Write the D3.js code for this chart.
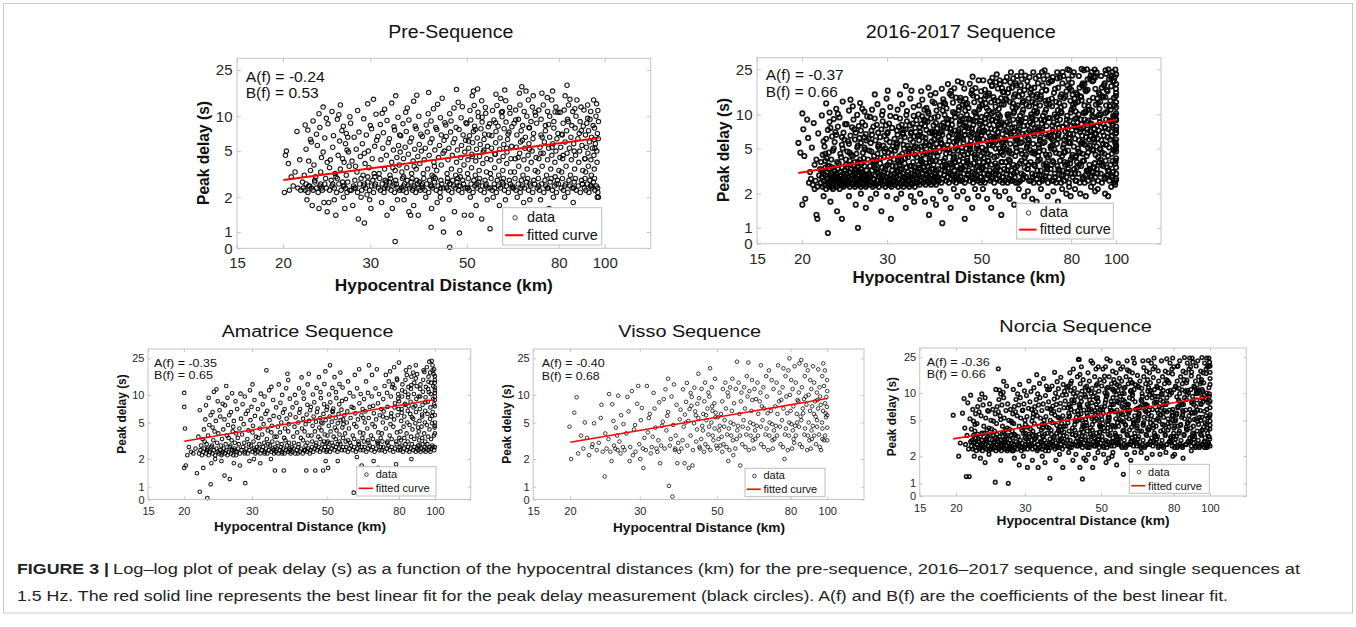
<!DOCTYPE html>
<html>
<head>
<meta charset="utf-8">
<script src="https://cdn.jsdelivr.net/npm/d3@7"></script>
<style>
body { margin: 0; background: #fff; }
text { font-family: "Liberation Sans", Arial, Helvetica, sans-serif; }
</style>
</head>
<body>
<svg width="1356" height="627"></svg>
<script>
// tick positions are log10 values, labels as printed in the figure
var xTickPos = [1.2, 1.3, 1.49, 1.7, 1.9, 2.0];
var xTickText = ["15", "20", "30", "50", "80", "100"];
var yTickPos = [-0.14, 0, 0.301, 0.699, 1, 1.398];
var yTickText = ["0", "1", "2", "5", "10", "25"];

var titles = ["Pre-Sequence", "2016-2017 Sequence", "Amatrice Sequence", "Visso Sequence", "Norcia Sequence"];
var coefA = [-0.24, -0.37, -0.35, -0.40, -0.36];
var coefB = [0.53, 0.66, 0.65, 0.68, 0.66];
var fitStart = [20, 19.6, 20, 20, 19.6];
var fitEnd = [97, 100, 100, 100, 100];

// peak delay measurements: distance (km), delay (s), distance, delay, ...
var preSeq = [
20.1,2.2,20.3,5.0,20.2,4.6,20.5,3.9,20.6,2.3,21.0,2.5,21.2,3.3,21.5,2.4,21.7,4.2,21.4,7.4,21.8,2.3,20.8,3.0,
22.1,2.4,22.3,2.3,22.4,2.6,22.6,2.2,22.8,2.5,23.0,2.4,23.2,2.3,23.4,2.7,23.6,2.4,23.8,2.2,24.0,2.5,24.3,2.3,24.6,2.6,24.8,2.4,22.5,1.9,23.1,1.7,23.9,1.6,24.5,1.8,22.2,3.1,22.9,3.4,23.5,3.0,24.1,3.3,24.7,2.9,22.7,4.1,23.3,3.8,24.2,4.4,24.9,4.0,22.4,5.2,23.7,5.6,24.4,4.9,22.9,6.3,23.6,7.0,24.6,6.5,22.3,8.4,23.2,9.1,24.0,8.0,24.8,9.6,23.9,10.5,24.4,12.0,22.6,7.6,23.4,2.8,24.1,2.6,22.0,2.7,24.9,1.5,23.0,6.0,
25.2,2.3,25.5,2.5,25.8,2.4,26.1,2.2,26.4,2.6,26.7,2.3,27.0,2.5,27.3,2.4,27.6,2.7,27.9,2.3,25.4,2.8,26.2,2.9,26.9,2.7,27.5,2.2,25.1,1.8,26.0,1.4,27.2,1.6,25.9,3.2,26.6,3.5,27.4,3.1,27.8,3.7,25.3,4.2,26.3,4.6,27.1,4.0,27.7,4.9,25.6,5.4,26.5,6.1,27.3,5.8,25.7,6.8,26.8,7.5,27.6,6.6,25.0,8.6,26.2,9.4,27.0,8.2,27.9,9.9,26.4,10.3,25.5,11.0,27.4,7.1,25.2,3.6,26.0,3.0,26.9,4.3,27.5,5.1,25.8,1.9,27.0,2.0,26.6,12.5,
28.1,2.3,28.4,2.5,28.7,2.4,29.0,2.2,29.3,2.6,29.6,2.3,29.9,2.5,30.2,2.4,30.5,2.7,30.8,2.3,31.1,2.5,31.4,2.2,31.7,2.6,28.6,2.8,29.5,2.9,30.4,2.1,31.3,2.8,28.3,1.7,29.1,1.3,30.0,1.2,31.0,1.6,28.9,3.3,29.8,3.1,30.7,3.6,31.5,3.2,28.2,4.1,29.4,4.5,30.1,3.9,31.2,4.3,28.8,5.2,29.7,5.8,30.6,5.0,31.6,5.5,28.5,6.6,29.2,7.3,30.3,6.9,31.1,7.8,28.0,8.7,29.9,9.5,30.9,8.3,31.8,10.4,29.0,11.2,30.5,12.8,31.4,14.0,28.7,3.7,30.0,4.8,31.9,6.2,29.5,2.0,30.8,1.9,31.6,3.0,
32.2,2.4,32.5,2.3,32.8,2.6,33.1,2.2,33.4,2.5,33.7,2.4,34.0,2.7,34.3,2.3,34.6,2.5,34.9,2.2,35.2,2.6,35.5,2.4,35.8,2.3,32.4,2.9,33.3,2.8,34.2,2.9,35.1,2.8,32.7,1.8,33.6,1.4,34.5,1.6,35.4,1.9,35.0,0.83,32.3,3.2,33.2,3.5,34.1,3.1,35.0,3.4,35.7,3.8,32.6,4.2,33.5,4.6,34.4,4.0,35.3,4.4,32.9,5.3,33.8,5.9,34.7,5.1,35.6,5.6,32.1,6.7,33.0,7.2,34.0,6.4,34.9,7.6,35.8,6.9,32.5,8.5,33.6,9.2,34.8,8.1,35.5,9.8,33.2,11.5,34.4,13.0,35.1,15.0,32.8,10.6,34.6,3.6,35.9,4.9,
36.1,2.4,36.4,2.3,36.7,2.6,37.0,2.2,37.3,2.5,37.6,2.4,37.9,2.7,38.2,2.3,38.5,2.5,38.8,2.2,39.1,2.6,39.4,2.4,39.7,2.3,36.3,2.9,37.2,2.8,38.1,2.9,39.0,2.8,36.6,1.9,37.5,1.5,38.4,1.7,39.3,1.4,36.2,3.3,37.1,3.6,38.0,3.2,38.9,3.5,39.6,3.9,36.5,4.3,37.4,4.7,38.3,4.1,39.2,4.5,36.8,5.4,37.7,6.0,38.6,5.2,39.5,5.7,36.0,6.8,37.0,7.4,38.0,6.5,38.9,7.8,39.8,7.0,36.4,8.6,37.5,9.3,38.7,8.2,39.4,10.0,37.2,11.8,38.4,13.5,39.0,15.2,36.9,10.8,38.5,3.7,39.9,5.0,37.8,1.4,
40.2,2.4,40.6,2.3,41.0,2.6,41.4,2.2,41.8,2.5,42.2,2.4,42.6,2.7,43.0,2.3,43.4,2.5,43.8,2.2,44.2,2.6,44.6,2.4,40.4,2.9,41.6,2.8,42.8,2.9,44.0,2.8,40.8,2.0,42.0,1.6,43.2,1.8,44.4,1.3,41.9,1.1,44.6,1.0,40.3,3.2,41.2,3.5,42.1,3.1,43.1,3.4,44.1,3.8,40.5,4.2,41.5,4.6,42.5,4.0,43.5,4.4,44.5,4.8,40.7,5.3,41.7,5.9,42.7,5.1,43.7,5.6,44.7,6.2,40.1,6.7,41.1,7.3,42.1,6.4,43.1,7.7,44.1,6.9,40.9,8.4,41.9,9.1,42.9,8.0,43.9,9.7,44.9,8.8,41.3,10.5,42.4,11.6,43.3,12.7,44.3,14.3,41.4,16.0,42.6,3.7,44.8,5.0,40.0,2.5,43.9,2.0,
45.3,2.4,45.7,2.3,46.1,2.6,46.5,2.2,46.9,2.5,47.3,2.4,47.7,2.7,48.1,2.3,48.5,2.5,48.9,2.2,49.3,2.6,49.7,2.4,45.5,2.9,46.7,2.8,47.9,2.9,49.1,2.8,45.9,1.9,47.1,1.5,48.3,0.98,49.5,1.4,46.0,0.74,45.4,3.2,46.4,3.5,47.4,3.1,48.4,3.4,49.4,3.8,45.6,4.2,46.6,4.6,47.6,4.0,48.6,4.4,49.6,4.9,45.8,5.3,46.8,5.9,47.8,5.1,48.8,5.6,49.8,6.2,45.2,6.7,46.2,7.3,47.2,6.4,48.2,7.7,49.2,6.9,45.1,8.4,46.3,9.1,47.5,8.0,48.7,9.7,49.9,8.8,46.0,10.5,47.0,11.8,48.0,13.2,49.0,12.1,47.6,17.0,
50.2,2.4,50.7,2.3,51.2,2.6,51.7,2.2,52.2,2.5,52.7,2.4,53.2,2.7,53.7,2.3,54.2,2.5,54.7,2.2,55.2,2.6,55.7,2.4,50.5,2.9,51.9,2.8,53.4,2.9,54.9,2.8,51.0,2.0,52.5,1.7,54.0,1.3,55.5,1.9,51.2,1.4,50.3,3.2,51.3,3.6,52.3,3.1,53.3,3.4,54.3,3.9,55.3,3.3,50.4,4.2,51.4,4.7,52.4,4.1,53.4,4.5,54.4,4.9,55.4,4.3,50.6,5.3,51.6,5.9,52.6,5.2,53.6,5.7,54.6,6.3,55.6,5.5,50.8,6.8,51.8,7.4,52.8,6.5,53.8,7.8,54.8,7.0,55.8,8.1,50.1,8.6,51.1,9.3,52.1,8.2,53.1,9.9,54.1,8.9,55.1,10.6,50.9,11.2,52.0,12.4,53.0,10.8,54.0,13.6,55.0,11.9,51.5,15.0,52.9,17.2,51.8,16.5,
56.3,2.4,56.9,2.3,57.5,2.6,58.1,2.2,58.7,2.5,59.3,2.4,59.9,2.7,60.5,2.3,61.1,2.5,61.7,2.2,62.3,2.6,62.9,2.4,56.6,2.9,58.4,2.8,60.2,2.9,62.0,2.8,57.2,2.0,59.0,1.7,60.8,1.9,62.6,1.5,56.3,1.07,56.4,3.2,57.6,3.6,58.8,3.1,60.0,3.4,61.2,3.9,62.4,3.3,56.5,4.2,57.7,4.7,58.9,4.1,60.1,4.5,61.3,4.9,62.5,4.3,56.7,5.3,57.9,5.9,59.1,5.2,60.3,5.7,61.5,6.3,62.7,5.5,56.8,6.8,58.0,7.4,59.2,6.5,60.4,7.8,61.6,7.0,62.8,8.1,56.2,8.6,57.4,9.3,58.6,8.2,59.8,9.9,61.0,8.9,62.2,10.6,57.0,11.2,58.3,12.4,59.6,10.8,60.9,13.6,62.1,11.9,58.0,15.5,60.6,16.8,59.4,14.2,
63.4,2.4,64.1,2.3,64.8,2.6,65.5,2.2,66.2,2.5,66.9,2.4,67.6,2.7,68.3,2.3,69.0,2.5,69.7,2.2,70.4,2.6,63.8,2.9,65.9,2.8,68.0,2.9,70.1,2.8,64.5,2.0,66.6,1.8,68.7,1.9,63.6,3.3,65.0,3.7,66.4,3.1,67.8,3.5,69.2,4.0,70.6,3.4,63.9,4.3,65.3,4.8,66.7,4.2,68.1,4.6,69.5,5.0,70.9,4.4,64.2,5.4,65.6,6.0,67.0,5.3,68.4,5.8,69.8,6.4,64.4,6.9,65.8,7.5,67.2,6.6,68.6,7.9,70.0,7.1,63.5,8.7,64.9,9.4,66.3,8.3,67.7,10.0,69.1,9.0,70.5,10.8,64.0,11.3,65.4,12.5,66.8,11.0,68.2,13.8,69.6,12.0,65.2,15.8,67.4,16.5,69.9,15.0,66.0,18.0,
71.3,2.4,72.1,2.3,72.9,2.6,73.7,2.2,74.5,2.5,75.3,2.4,76.1,2.7,76.9,2.3,77.7,2.5,78.5,2.2,79.3,2.6,71.7,2.9,74.1,2.8,76.5,2.9,78.9,2.8,72.5,1.9,75.7,1.6,77.3,2.0,71.5,3.3,73.1,3.7,74.7,3.1,76.3,3.5,77.9,4.0,79.5,3.4,71.9,4.3,73.5,4.8,75.1,4.2,76.7,4.6,78.3,5.0,79.9,4.4,72.3,5.4,73.9,6.0,75.5,5.3,77.1,5.8,78.7,6.4,72.7,6.9,74.3,7.5,75.9,6.6,77.5,7.9,79.1,7.1,71.1,8.7,72.7,9.4,74.3,8.3,75.9,10.0,77.5,9.0,79.1,10.8,71.9,11.3,73.5,12.5,75.1,11.0,76.7,13.8,78.3,12.0,73.0,15.8,75.0,14.5,77.0,16.5,78.0,3.0,
80.4,2.4,81.3,2.3,82.2,2.6,83.1,2.2,84.0,2.5,84.9,2.4,85.8,2.7,86.7,2.3,87.6,2.5,88.5,2.2,89.4,2.6,80.9,2.9,83.6,2.8,86.3,2.9,89.0,2.8,81.8,2.0,85.4,1.8,80.6,3.3,82.4,3.7,84.2,3.1,86.0,3.5,87.8,4.0,89.6,3.4,81.0,4.3,82.8,4.8,84.6,4.2,86.4,4.6,88.2,5.0,80.2,5.4,82.0,6.0,83.8,5.3,85.6,5.8,87.4,6.4,89.2,5.6,80.8,6.9,82.6,7.5,84.4,6.6,86.2,7.9,88.0,7.1,89.8,8.2,81.2,8.7,83.0,9.4,84.8,8.3,86.6,10.0,88.4,9.0,80.0,10.8,81.6,11.3,83.4,12.5,85.2,11.0,87.0,13.8,88.8,12.0,82.0,15.0,84.0,14.0,82.8,18.5,
90.3,2.4,91.0,2.3,91.7,2.6,92.4,2.2,93.1,2.5,93.8,2.4,94.5,2.7,95.2,2.3,95.9,2.5,96.6,2.2,90.6,2.9,92.8,2.8,95.0,2.9,96.3,2.0,96.9,2.0,90.9,3.3,92.1,3.7,93.5,3.1,94.9,3.5,96.2,4.0,90.5,4.3,91.9,4.8,93.3,4.2,94.7,4.6,96.1,5.0,91.2,5.4,92.6,6.0,94.0,5.3,95.4,5.8,96.8,6.4,90.8,6.9,92.2,7.5,93.6,6.6,95.0,7.9,96.4,7.1,91.4,8.7,92.9,9.4,94.3,8.3,95.7,10.0,96.9,9.0,90.1,11.3,91.8,12.5,93.2,11.0,94.6,13.8,96.0,12.8,
22.7,2.5,24.2,2.4,25.6,2.6,27.1,2.5,28.5,2.4,30.0,2.6,31.6,2.5,33.2,2.4,34.8,2.6,36.5,2.5,38.3,2.4,40.1,2.6,42.0,2.5,44.0,2.4,46.0,2.6,48.2,2.5,50.4,2.4,52.7,2.6,55.1,2.5,57.6,2.4,60.2,2.6,62.9,2.5,65.7,2.4,68.7,2.6,71.8,2.5,75.0,2.4,78.4,2.6,81.9,2.5,85.6,2.4,89.4,2.6,93.4,2.5,96.5,2.4,
50.5,6.1,52.3,7.7,54.1,9.8,56.0,6.9,57.9,8.8,59.9,11.0,61.9,7.3,64.0,9.3,66.2,6.2,68.4,8.0,70.7,10.2,73.1,6.6,75.5,8.5,78.0,10.9,80.6,7.0,83.3,9.0,86.1,11.6,88.9,7.5,91.8,9.6,94.8,6.3,96.6,11.2,
51.5,4.5,54.6,5.1,57.8,4.7,61.2,5.3,64.8,4.4,68.6,5.2,72.6,4.8,76.8,5.4,81.2,4.6,85.8,5.0,90.6,4.3,95.2,5.3,30.5,3.0,33.5,2.7,36.5,3.0,39.5,2.7,42.5,3.0,45.5,2.7,48.5,3.0
];

var seq1617 = [
19.6,5.6,19.8,4.6,20.0,10.2,20.1,7.4,20.2,4.3,20.0,1.6,20.3,1.8,20.5,9.0,20.6,6.2,20.8,3.1,20.9,2.7,21.0,5.1,21.1,2.4,21.2,8.4,21.3,3.6,21.4,2.6,21.5,1.3,21.5,4.0,21.6,2.3,21.7,6.8,21.8,2.9,21.9,3.3,21.6,1.2,21.3,2.2,20.7,2.5,
22.0,2.5,22.1,2.8,22.1,3.2,22.2,2.3,22.3,2.6,22.3,3.0,22.4,2.4,22.5,2.9,22.5,3.4,22.6,2.2,22.7,2.7,22.7,3.1,22.8,2.5,22.9,2.3,22.9,3.3,23.0,2.6,23.1,2.9,23.1,2.4,23.2,3.0,23.3,2.7,23.3,2.3,23.4,3.4,23.5,2.5,23.5,2.8,23.6,3.2,23.7,2.4,23.7,2.6,23.8,3.0,23.9,2.3,23.9,2.8,24.0,3.3,24.1,2.5,24.1,2.7,24.2,2.2,24.3,3.1,24.3,2.6,24.4,2.9,24.5,2.4,24.5,3.4,24.6,2.7,24.7,2.3,24.7,3.0,24.8,2.5,24.9,2.8,24.9,3.2,22.4,2.6,23.0,2.5,23.6,2.9,24.2,2.7,24.8,2.4,22.8,3.5,23.4,2.2,24.0,2.6,24.6,2.5,23.2,2.8,
22.0,3.8,22.2,4.4,22.4,5.2,22.6,6.1,22.8,7.3,23.0,8.6,23.2,4.0,23.4,4.8,23.6,5.7,23.8,6.6,24.0,7.8,24.2,9.4,24.4,4.2,24.6,5.0,24.8,6.0,22.1,9.8,22.5,3.9,22.9,4.6,23.3,6.4,23.7,7.0,24.1,3.7,24.5,5.4,24.9,8.2,22.3,5.8,22.7,4.1,23.1,7.6,23.5,9.1,23.9,3.8,24.3,4.5,24.7,6.9,23.0,10.4,24.0,10.1,22.6,12.5,23.8,11.2,24.6,13.0,22.3,1.9,23.1,1.7,23.9,1.4,24.5,1.2,22.8,0.9,
25.0,2.6,25.1,3.0,25.2,2.4,25.2,3.4,25.3,2.8,25.4,2.5,25.5,3.1,25.5,2.3,25.6,2.7,25.7,3.3,25.8,2.5,25.8,2.9,25.9,2.4,26.0,3.5,26.1,2.6,26.1,3.0,26.2,2.3,26.3,2.8,26.4,3.2,26.4,2.5,26.5,2.7,26.6,3.4,26.7,2.4,26.7,2.9,26.8,3.1,26.9,2.6,27.0,2.3,27.0,3.3,27.1,2.8,27.2,2.5,27.3,3.0,27.3,2.4,27.4,2.7,27.5,3.5,27.6,2.6,27.6,2.9,27.7,2.3,27.8,3.2,27.9,2.5,27.9,2.8,25.3,2.6,25.9,2.9,26.5,2.4,27.1,3.1,27.7,2.7,25.6,3.6,26.2,3.3,26.8,2.5,27.4,2.8,27.8,2.4,
25.0,4.0,25.2,4.7,25.4,5.5,25.6,6.5,25.8,7.7,26.0,9.0,26.2,3.8,26.4,4.5,26.6,5.3,26.8,6.2,27.0,7.2,27.2,8.5,27.4,4.1,27.6,4.9,27.8,5.9,25.1,8.2,25.5,3.9,25.9,4.3,26.3,6.9,26.7,7.9,27.1,3.7,27.5,5.1,27.9,9.6,25.3,5.8,25.7,4.4,26.1,7.4,26.5,9.9,26.9,4.0,27.3,4.6,27.7,6.7,25.4,10.8,26.6,3.8,27.0,5.6,27.6,8.0,26.2,6.0,25.9,11.8,26.9,12.6,27.5,10.6,25.6,13.5,27.2,11.2,25.4,1.9,26.3,1.6,27.0,2.0,27.7,1.5,26.6,1.0,
28.0,2.6,28.1,3.0,28.2,2.4,28.3,3.5,28.4,2.8,28.5,2.5,28.6,3.2,28.7,2.3,28.8,2.7,28.9,3.6,29.0,2.5,29.1,2.9,29.2,2.4,29.3,3.3,29.4,2.6,29.5,3.0,29.6,2.3,29.7,2.8,29.8,3.7,29.9,2.5,30.0,2.7,30.1,3.4,30.2,2.4,30.3,2.9,30.4,3.1,30.5,2.6,30.6,2.3,30.7,3.5,30.8,2.8,30.9,2.5,31.0,3.0,31.1,2.4,31.2,2.7,31.3,3.8,31.4,2.6,31.5,2.9,31.6,2.3,31.7,3.2,31.8,2.5,31.9,2.8,28.2,2.9,28.8,2.4,29.4,3.1,30.0,2.6,30.6,3.3,31.2,2.5,31.8,3.5,29.0,3.8,30.2,2.8,31.4,2.4,
28.0,4.0,28.2,4.8,28.4,5.6,28.6,6.6,28.8,7.8,29.0,9.2,29.2,3.9,29.4,4.5,29.6,5.4,29.8,6.3,30.0,7.4,30.2,8.7,30.4,4.2,30.6,5.0,30.8,6.0,31.0,7.0,31.2,8.3,31.4,9.7,31.6,4.4,31.8,5.2,28.1,6.1,28.5,7.2,28.9,4.3,29.3,8.1,29.7,5.0,30.1,9.9,30.5,4.7,30.9,6.8,31.3,5.7,31.7,7.6,28.3,9.5,28.7,3.9,29.1,5.9,29.5,6.9,29.9,4.1,30.3,5.3,30.7,8.0,31.1,4.6,28.6,11.0,29.4,12.3,30.2,10.7,30.8,13.8,31.4,11.6,29.0,15.0,31.0,16.2,28.4,1.8,29.2,2.0,30.0,1.4,30.9,1.9,31.5,1.2,
32.0,2.6,32.1,3.0,32.2,2.4,32.3,3.5,32.4,2.8,32.5,2.5,32.6,3.2,32.7,2.3,32.8,2.7,32.9,3.6,33.0,2.5,33.1,2.9,33.2,2.4,33.3,3.3,33.4,2.6,33.5,3.0,33.6,2.3,33.7,2.8,33.8,3.7,33.9,2.5,34.0,2.7,34.1,3.4,34.2,2.4,34.3,2.9,34.4,3.1,34.5,2.6,34.6,2.3,34.7,3.5,34.8,2.8,34.9,2.5,35.0,3.0,35.1,2.4,35.2,2.7,35.3,3.8,35.4,2.6,35.5,2.9,35.6,2.3,35.7,3.2,35.8,2.5,35.9,2.8,32.5,3.1,33.5,2.6,34.5,2.9,35.5,3.4,33.0,3.3,
32.0,4.0,32.2,4.8,32.4,5.6,32.6,6.6,32.8,7.8,33.0,9.2,33.2,3.9,33.4,4.5,33.6,5.4,33.8,6.3,34.0,7.4,34.2,8.7,34.4,4.2,34.6,5.0,34.8,6.0,35.0,7.0,35.2,8.3,35.4,9.7,35.6,4.4,35.8,5.2,32.1,6.1,32.5,7.2,32.9,4.3,33.3,8.1,33.7,5.0,34.1,9.9,34.5,4.7,34.9,6.8,35.3,5.7,35.7,7.6,32.3,9.5,32.7,3.9,33.1,5.9,33.5,6.9,33.9,4.1,34.3,5.3,34.7,8.0,35.1,4.6,35.5,6.4,35.9,8.9,32.4,5.1,33.6,7.3,32.6,11.0,33.4,12.3,34.2,10.7,34.8,13.8,35.4,11.6,33.0,15.0,35.0,16.2,34.0,17.8,32.4,1.8,33.2,2.0,34.0,1.5,34.9,1.9,35.5,1.7,
36.0,2.7,36.1,3.1,36.2,2.5,36.3,3.6,36.4,2.9,36.5,2.4,36.6,3.3,36.7,2.6,36.8,3.9,36.9,2.8,37.0,3.0,37.2,2.5,37.3,3.4,37.4,2.7,37.5,3.2,37.6,2.4,37.7,3.7,37.8,2.9,37.9,2.6,38.0,3.5,38.2,2.8,38.3,2.5,38.4,3.1,38.5,3.8,38.6,2.7,38.7,2.4,38.8,3.3,38.9,2.9,39.0,2.6,39.2,3.6,39.3,2.5,39.4,3.0,39.5,2.8,39.6,3.9,39.7,2.4,39.8,3.2,39.9,2.7,36.4,3.4,37.9,3.0,39.1,3.3,
36.0,4.2,36.2,5.0,36.4,5.9,36.6,7.0,36.8,8.2,37.0,9.6,37.2,4.4,37.4,5.3,37.6,6.2,37.8,7.3,38.0,8.6,38.2,10.2,38.4,4.1,38.6,4.9,38.8,5.8,39.0,6.8,39.2,8.0,39.4,9.4,39.6,4.6,39.8,5.5,36.1,6.5,36.5,7.7,36.9,4.8,37.3,9.0,37.7,5.6,38.1,10.6,38.5,4.3,38.9,7.1,39.3,6.0,39.7,8.4,36.3,10.0,36.7,4.0,37.1,6.3,37.5,7.9,37.9,4.5,38.3,5.4,38.7,9.2,39.1,5.1,39.5,6.6,39.9,7.5,36.8,5.2,37.6,8.8,38.4,6.9,39.2,4.7,39.8,10.8,36.4,12.0,37.0,13.5,37.8,11.4,38.6,14.8,39.4,12.6,36.8,16.0,38.2,17.2,39.6,15.4,37.4,11.0,39.0,13.0,36.6,2.0,37.5,1.7,38.3,1.3,39.1,1.8,39.7,1.6,
40.0,2.8,40.2,3.3,40.3,2.6,40.5,3.8,40.6,3.0,40.8,2.5,41.0,3.5,41.1,2.7,41.3,3.9,41.4,2.9,41.6,3.2,41.8,2.6,41.9,3.6,42.1,2.8,42.3,3.1,42.4,2.5,42.6,3.7,42.7,3.0,42.9,2.7,43.1,3.4,43.2,2.9,43.4,2.6,43.6,3.2,43.7,3.8,43.9,2.8,44.0,2.5,44.2,3.5,44.4,3.0,44.5,2.7,44.7,3.9,44.8,2.6,44.9,3.3,41.5,3.4,43.0,3.6,44.1,2.9,
40.0,4.3,40.3,5.1,40.6,6.0,40.9,7.1,41.2,8.4,41.5,9.9,41.8,4.5,42.1,5.4,42.4,6.4,42.7,7.5,43.0,8.9,43.3,10.5,43.6,4.2,43.9,5.0,44.2,5.9,44.5,7.0,44.8,8.2,40.1,9.6,40.4,4.7,40.7,5.6,41.0,6.6,41.3,7.8,41.6,4.1,41.9,9.2,42.2,4.9,42.5,5.8,42.8,6.9,43.1,8.1,43.4,4.4,43.7,10.2,44.0,5.3,44.3,6.2,44.6,7.3,44.9,8.7,40.2,6.3,40.8,8.0,41.4,5.0,42.0,7.6,42.6,4.6,43.2,6.7,43.8,9.5,44.4,4.8,41.1,10.8,42.3,9.0,43.5,5.7,44.7,6.5,
40.5,12.0,41.2,13.6,41.9,11.3,42.6,15.2,43.3,12.7,44.0,14.1,44.7,11.6,40.9,16.8,42.2,18.5,43.6,17.0,44.4,19.6,41.6,12.4,43.0,14.6,44.9,13.3,40.6,2.1,41.7,1.8,42.8,1.5,43.5,2.2,44.3,1.9,41.0,1.1,
45.0,2.8,45.2,3.3,45.4,2.6,45.6,3.8,45.8,3.0,46.0,2.5,46.2,3.5,46.4,2.7,46.6,3.9,46.8,2.9,47.0,3.2,47.2,2.6,47.4,3.6,47.6,2.8,47.8,3.1,48.0,2.5,48.2,3.7,48.4,3.0,48.6,2.7,48.8,3.4,49.0,2.9,49.2,2.6,49.4,3.2,49.6,3.8,49.8,2.8,45.5,3.4,46.7,3.0,47.9,2.7,49.1,3.5,49.9,2.5,
45.0,4.3,45.3,5.1,45.6,6.0,45.9,7.1,46.2,8.4,46.5,9.9,46.8,4.5,47.1,5.4,47.4,6.4,47.7,7.5,48.0,8.9,48.3,10.5,48.6,4.2,48.9,5.0,49.2,5.9,49.5,7.0,49.8,8.2,45.1,9.6,45.4,4.7,45.7,5.6,46.0,6.6,46.3,7.8,46.6,4.1,46.9,9.2,47.2,4.9,47.5,5.8,47.8,6.9,48.1,8.1,48.4,4.4,48.7,10.2,49.0,5.3,49.3,6.2,49.6,7.3,49.9,8.7,45.2,6.3,45.8,8.0,46.4,5.0,47.0,7.6,47.6,4.6,48.2,6.7,48.8,9.5,49.4,4.8,46.1,10.8,47.3,9.0,
45.5,12.1,46.2,13.7,46.9,11.4,47.6,15.3,48.3,12.8,49.0,14.2,49.7,11.7,45.9,16.9,47.2,18.6,48.6,17.1,49.4,20.0,46.6,12.5,48.0,14.7,49.9,13.4,45.3,19.0,47.9,21.5,45.6,2.1,46.7,1.8,47.8,1.5,48.5,2.2,49.3,1.9,46.0,1.2,
50.0,2.8,50.2,3.3,50.4,2.6,50.6,3.8,50.8,3.0,51.0,2.5,51.3,3.5,51.5,2.7,51.8,3.9,52.0,2.9,52.3,3.2,52.5,2.6,52.8,3.6,53.0,2.8,53.3,3.1,53.5,2.5,53.8,3.7,54.0,3.0,54.3,2.7,54.5,3.4,54.8,2.9,55.0,2.6,55.3,3.2,55.5,3.8,55.8,2.8,50.5,3.4,51.7,3.0,52.9,2.7,54.1,3.5,55.9,2.5,
50.0,4.3,50.3,5.1,50.6,6.0,50.9,7.1,51.2,8.4,51.5,9.9,51.8,4.5,52.1,5.4,52.4,6.4,52.7,7.5,53.0,8.9,53.3,10.5,53.6,4.2,53.9,5.0,54.2,5.9,54.5,7.0,54.8,8.2,55.1,9.6,55.4,4.7,55.7,5.6,50.1,6.6,50.4,7.8,50.7,4.1,51.0,9.2,51.3,4.9,51.6,5.8,51.9,6.9,52.2,8.1,52.5,4.4,52.8,10.2,53.1,5.3,53.4,6.2,53.7,7.3,54.0,8.7,54.3,6.3,54.6,8.0,54.9,5.0,55.2,7.6,55.5,4.6,55.8,6.7,50.2,9.5,51.1,4.8,52.0,10.8,52.9,9.0,53.8,5.7,54.7,10.0,55.6,8.5,50.8,7.2,52.6,6.1,54.4,9.3,
50.3,12.1,50.9,13.7,51.5,11.4,52.1,15.3,52.7,12.8,53.3,14.2,53.9,11.7,54.5,16.9,55.1,18.6,55.7,17.1,50.6,20.0,51.2,12.5,51.8,14.7,52.4,19.5,53.0,21.0,53.6,13.4,54.2,22.5,54.8,11.2,55.4,13.9,55.9,15.8,51.0,16.5,52.9,17.8,54.0,19.2,55.6,12.3,50.5,2.2,51.6,1.8,52.7,1.5,53.8,2.1,54.9,1.9,55.5,1.3,
56.0,2.8,56.3,3.3,56.5,2.6,56.8,3.8,57.0,3.0,57.3,2.5,57.5,3.5,57.8,2.7,58.0,3.9,58.3,2.9,58.5,3.2,58.8,2.6,59.0,3.6,59.5,2.8,60.0,3.1,60.5,2.5,61.0,3.7,61.5,3.0,62.0,2.7,62.5,3.4,57.2,3.2,58.2,2.6,59.2,3.0,60.2,3.5,61.2,2.6,62.2,2.9,62.8,3.8,59.8,2.5,
56.0,4.4,56.3,5.2,56.6,6.1,56.9,7.2,57.2,8.5,57.5,10.0,57.8,4.6,58.1,5.5,58.4,6.5,58.7,7.6,59.0,9.0,59.3,10.6,59.6,4.3,59.9,5.1,60.2,6.0,60.5,7.1,60.8,8.3,61.1,9.7,61.4,4.8,61.7,5.7,62.0,6.7,62.3,7.9,62.6,4.2,62.9,9.3,56.1,5.0,56.7,5.9,57.3,7.0,57.9,8.2,58.5,4.5,59.1,10.3,59.7,5.4,60.3,6.3,60.9,7.4,61.5,8.8,62.1,11.0,62.7,6.4,56.4,8.0,57.0,4.9,57.6,9.5,58.2,6.8,58.8,11.5,59.4,7.7,60.0,4.7,60.6,9.0,61.2,5.6,61.8,10.4,
56.2,12.2,56.8,13.8,57.4,15.5,58.0,12.9,58.6,17.2,59.2,14.3,59.8,18.8,60.4,12.0,61.0,16.0,61.6,20.4,62.2,13.2,62.8,22.0,56.5,19.6,57.1,21.3,57.7,16.8,58.3,23.5,58.9,12.6,59.5,15.0,60.1,21.8,60.7,14.4,61.3,18.0,61.9,12.8,62.5,16.4,57.0,13.4,59.0,20.8,61.5,23.6,56.6,2.1,57.9,1.8,59.3,1.6,60.7,2.2,61.8,1.3,62.4,1.9,
63.0,2.8,63.5,3.3,64.0,2.6,64.5,3.8,65.0,3.0,65.5,2.5,66.0,3.5,66.5,2.7,67.0,3.9,67.5,2.9,68.0,3.2,68.5,2.6,69.0,3.6,69.5,2.8,70.0,3.1,70.5,2.5,63.8,3.6,65.2,2.8,66.8,3.2,68.2,2.9,69.8,3.7,64.6,2.6,67.4,2.5,70.2,3.3,66.0,2.9,68.8,2.7,
63.0,4.4,63.3,5.2,63.7,6.1,64.0,7.2,64.3,8.5,64.7,10.0,65.0,4.6,65.3,5.5,65.7,6.5,66.0,7.6,66.3,9.0,66.7,10.6,67.0,4.3,67.3,5.1,67.7,6.0,68.0,7.1,68.3,8.3,68.7,9.7,69.0,4.8,69.3,5.7,69.7,6.7,70.0,7.9,70.3,4.2,70.7,9.3,63.2,5.0,63.9,5.9,64.5,7.0,65.2,8.2,65.8,4.5,66.5,10.3,67.1,5.4,67.8,6.3,68.4,7.4,69.1,8.8,69.8,11.0,70.4,6.4,63.5,8.0,64.2,4.9,64.8,9.5,65.5,6.8,66.1,11.5,66.8,7.7,67.4,4.7,68.1,9.0,68.7,5.6,69.4,10.4,
63.1,12.2,63.8,13.8,64.4,15.5,65.1,12.9,65.7,17.2,66.4,14.3,67.0,18.8,67.7,12.0,68.3,16.0,69.0,20.4,69.6,13.2,70.3,22.0,63.4,19.6,64.1,21.3,64.7,16.8,65.4,23.5,66.0,12.6,66.7,15.0,67.3,21.8,68.0,14.4,68.6,18.0,69.3,24.5,69.9,16.4,70.6,13.4,64.0,11.8,66.2,20.8,68.4,23.6,70.8,19.0,63.6,2.1,65.0,1.8,66.5,1.7,68.0,2.2,69.2,1.3,70.4,1.9,
71.0,2.8,71.5,3.3,72.0,2.6,72.5,3.8,73.0,3.0,73.5,2.5,74.0,3.5,74.5,2.7,75.0,3.9,75.5,2.9,76.0,3.2,76.5,2.6,77.0,3.6,77.5,2.8,78.0,3.1,78.5,2.5,79.0,3.7,79.5,3.0,71.8,3.6,73.2,2.8,74.8,3.2,76.2,2.9,77.8,3.7,72.6,2.6,75.4,2.5,78.2,3.3,
71.0,4.4,71.4,5.2,71.8,6.1,72.2,7.2,72.6,8.5,73.0,10.0,73.4,4.6,73.8,5.5,74.2,6.5,74.6,7.6,75.0,9.0,75.4,10.6,75.8,4.3,76.2,5.1,76.6,6.0,77.0,7.1,77.4,8.3,77.8,9.7,78.2,4.8,78.6,5.7,79.0,6.7,79.4,7.9,79.8,4.2,71.2,9.3,71.6,5.0,72.4,5.9,73.2,7.0,74.0,8.2,74.8,4.5,75.6,10.3,76.4,5.4,77.2,6.3,78.0,7.4,78.8,8.8,79.6,11.0,71.3,6.4,72.1,8.0,72.9,4.9,73.7,9.5,74.5,6.8,75.3,11.5,76.1,7.7,76.9,4.7,77.7,9.0,78.5,5.6,79.3,10.4,
71.1,12.2,71.9,13.8,72.7,15.5,73.5,12.9,74.3,17.2,75.1,14.3,75.9,18.8,76.7,12.0,77.5,16.0,78.3,20.4,79.1,13.2,79.9,22.0,71.5,19.6,72.3,21.3,73.1,16.8,73.9,23.5,74.7,12.6,75.5,15.0,76.3,21.8,77.1,14.4,77.9,18.0,78.7,24.5,79.5,16.4,72.0,11.8,74.0,20.8,76.0,23.6,78.0,25.0,79.7,19.0,72.5,2.1,74.2,1.7,75.8,2.2,77.5,2.0,79.2,1.9,78.6,2.3,
80.0,2.8,80.6,3.3,81.2,2.6,81.8,3.8,82.4,3.0,83.0,2.5,83.6,3.5,84.2,2.7,84.8,3.9,85.4,2.9,86.0,3.2,86.6,2.6,87.2,3.6,87.8,2.8,88.4,3.1,89.0,2.5,89.6,3.7,80.9,3.0,82.7,3.6,84.5,2.8,86.3,3.2,88.1,2.9,89.3,3.4,81.5,2.6,85.1,2.5,87.5,3.3,
80.0,4.4,80.5,5.2,81.0,6.1,81.5,7.2,82.0,8.5,82.5,10.0,83.0,4.6,83.5,5.5,84.0,6.5,84.5,7.6,85.0,9.0,85.5,10.6,86.0,4.3,86.5,5.1,87.0,6.0,87.5,7.1,88.0,8.3,88.5,9.7,89.0,4.8,89.5,5.7,80.2,6.7,80.7,7.9,81.2,4.2,81.7,9.3,82.2,5.0,82.7,5.9,83.2,7.0,83.7,8.2,84.2,4.5,84.7,10.3,85.2,5.4,85.7,6.3,86.2,7.4,86.7,8.8,87.2,11.0,87.7,6.4,88.2,8.0,88.7,4.9,89.2,9.5,89.7,6.8,80.4,11.5,81.4,7.7,82.4,4.7,83.4,9.0,84.4,5.6,85.4,10.4,86.4,6.9,87.4,5.3,88.4,10.8,89.4,7.5,
80.1,12.2,80.8,13.8,81.5,15.5,82.2,12.9,82.9,17.2,83.6,14.3,84.3,18.8,85.0,12.0,85.7,16.0,86.4,20.4,87.1,13.2,87.8,22.0,88.5,19.6,89.2,21.3,89.9,16.8,80.5,23.5,81.2,12.6,81.9,15.0,82.6,21.8,83.3,14.4,84.0,18.0,84.7,24.5,85.4,16.4,86.1,25.0,86.8,11.8,87.5,20.8,88.2,23.6,88.9,14.0,89.6,24.8,83.8,25.2,81.0,2.2,83.2,2.0,85.6,1.9,87.9,2.3,89.8,2.1,
90.0,2.8,90.6,3.3,91.2,2.6,91.8,3.8,92.4,3.0,93.0,2.5,93.6,3.5,94.2,2.7,94.8,3.9,95.4,2.9,96.0,3.2,96.6,2.6,97.2,3.6,97.8,2.8,98.4,3.1,99.0,2.5,99.6,3.7,100,2.7,100,3.0,100,3.4,99.8,2.6,90.9,3.0,92.7,3.6,94.5,2.8,96.3,3.2,98.1,2.9,
90.0,4.4,90.5,5.2,91.0,6.1,91.5,7.2,92.0,8.5,92.5,10.0,93.0,4.6,93.5,5.5,94.0,6.5,94.5,7.6,95.0,9.0,95.5,10.6,96.0,4.3,96.5,5.1,97.0,6.0,97.5,7.1,98.0,8.3,98.5,9.7,99.0,4.8,99.5,5.7,90.2,6.7,90.7,7.9,91.2,4.2,91.7,9.3,92.2,5.0,92.7,5.9,93.2,7.0,93.7,8.2,94.2,4.5,94.7,10.3,95.2,5.4,95.7,6.3,96.2,7.4,96.7,8.8,97.2,11.0,97.7,6.4,98.2,8.0,98.7,4.9,99.2,9.5,99.7,6.8,100,4.1,100,4.7,100,5.3,100,6.0,100,6.9,100,7.8,100,8.9,100,10.2,100,11.5,100,12.8,99.9,5.0,99.9,7.3,99.9,9.1,99.9,14.5,99.8,3.9,
90.1,12.2,90.8,13.8,91.5,15.5,92.2,12.9,92.9,17.2,93.6,14.3,94.3,18.8,95.0,12.0,95.7,16.0,96.4,20.4,97.1,13.2,97.8,22.0,98.5,19.6,99.2,21.3,99.9,16.8,90.5,23.5,91.2,12.6,91.9,15.0,92.6,21.8,93.3,14.4,94.0,18.0,94.7,24.5,95.4,16.4,96.1,25.0,96.8,11.8,97.5,20.8,98.2,23.6,98.9,14.0,99.6,24.8,100,18.5,100,22.5,100,15.5,91.0,2.2,94.5,2.0,97.5,2.3,99.5,2.4,96.0,1.9,
41.3,12.8,42.9,16.1,44.6,10.9,46.2,12.2,47.8,16.4,49.5,11.1,51.2,14.6,52.9,18.1,54.6,13.1,56.3,15.7,58.1,19.2,59.9,11.5,61.8,14.9,63.7,17.6,65.7,10.7,67.7,13.7,69.8,16.3,72.0,19.8,74.2,10.9,76.5,13.9,78.8,17.1,81.3,10.6,83.8,13.3,86.4,16.5,89.0,19.9,91.8,11.2,94.6,14.2,97.5,17.7,99.2,12.0,
40.6,6.9,42.2,8.3,43.8,7.2,45.4,9.1,47.0,6.6,48.6,8.7,50.3,7.0,52.0,9.4,53.7,6.4,55.5,8.2,57.3,9.9,59.2,7.1,61.1,8.6,63.1,6.8,65.1,9.2,67.2,7.3,69.3,8.9,71.5,6.5,73.8,9.6,76.1,7.8,78.5,6.2,81.0,9.1,83.5,7.4,86.1,8.5,88.8,6.1,91.6,9.9,94.4,7.7,97.3,8.7,99.6,9.8,
40.9,5.5,42.5,4.9,44.1,5.9,45.7,4.4,47.3,5.2,49.0,6.1,50.7,4.6,52.4,5.4,54.2,4.3,56.0,5.8,57.8,4.8,59.7,6.0,61.6,4.5,63.6,5.5,65.6,4.7,67.7,5.9,69.8,4.4,72.0,5.3,74.3,6.1,76.6,4.6,79.0,5.6,81.5,4.3,84.0,5.7,86.6,4.6,89.3,6.0,92.1,4.9,94.9,5.4,97.8,4.5,99.7,5.5,
41.7,3.5,43.4,4.0,45.1,3.3,46.8,3.7,48.5,4.1,50.2,3.4,52.0,3.9,53.8,3.2,55.7,3.8,57.6,4.0,59.5,3.4,61.5,3.9,63.5,3.3,65.6,3.6,67.7,4.0,69.9,3.5,72.1,3.9,74.4,3.3,76.8,3.8,79.2,4.0,81.7,3.4,84.3,3.9,86.9,3.2,89.6,3.7,92.4,4.0,95.3,3.4,98.2,3.9,
45.0,14.0,50.0,16.0,55.0,20.0,60.0,18.0,65.0,14.8,70.0,12.4,75.0,21.2,80.0,14.9,85.0,18.4,90.0,21.4,95.0,22.8,99.0,19.6,
22.5,4.5,23.5,5.0,24.5,6.3,25.5,4.6,26.5,5.1,27.5,6.3,28.5,4.7,29.5,5.2,30.5,6.5,31.5,4.9,32.5,5.4,33.5,6.7,34.5,4.5,35.5,5.1,36.5,6.6,37.5,4.6,38.5,5.3,39.5,7.0,23.0,3.5,25.0,3.6,27.0,3.7,29.0,3.4,31.0,3.6,33.0,3.8,35.0,3.5,37.0,3.8,39.0,3.9
];

var amatrice = [
20.0,10.5,20.0,7.4,20.1,4.3,20.0,1.6,20.2,1.7,20.4,2.2,20.6,2.7,20.9,2.4,21.2,2.3,21.5,2.6,21.7,1.4,21.9,3.5,
22.0,2.3,22.2,2.5,22.4,2.2,22.6,2.4,22.8,2.6,23.0,2.3,23.2,2.5,23.4,2.2,23.6,2.4,23.8,2.7,24.0,2.3,24.2,2.5,24.4,2.2,24.6,2.6,24.8,2.4,22.3,2.8,23.1,2.9,23.9,2.8,24.7,3.0,22.5,3.3,23.3,3.6,24.1,3.2,24.9,3.8,22.7,4.2,23.5,4.7,24.3,4.0,22.9,5.4,23.7,6.0,24.5,5.2,22.1,6.8,23.0,7.7,24.0,6.5,24.8,8.5,23.4,9.3,24.2,10.8,24.6,11.5,22.1,0.88,23.2,0.75,23.7,1.06,22.6,1.6,23.8,1.8,24.4,2.0,22.8,3.1,24.0,4.4,23.2,2.6,
25.0,2.3,25.2,2.5,25.4,2.2,25.6,2.4,25.8,2.6,26.0,2.3,26.2,2.5,26.4,2.2,26.6,2.4,26.8,2.7,27.0,2.3,27.2,2.5,27.4,2.2,27.6,2.6,27.8,2.4,25.3,2.8,26.1,2.9,26.9,2.8,27.7,3.0,25.5,3.3,26.3,3.6,27.1,3.2,27.9,3.8,25.7,4.2,26.5,4.7,27.3,4.0,25.9,5.4,26.7,6.0,27.5,5.2,25.1,6.8,26.0,7.7,27.0,6.5,27.8,8.5,26.4,9.3,27.2,10.4,25.6,8.0,25.9,1.32,26.8,1.21,25.4,1.9,27.5,1.8,26.6,3.4,27.4,4.5,25.2,5.8,26.2,12.5,27.9,2.2,
28.0,2.4,28.3,2.6,28.6,2.3,28.9,2.5,29.2,2.7,29.5,2.4,29.8,2.6,30.1,2.3,30.4,2.5,30.7,2.8,31.0,2.4,31.3,2.6,31.6,2.3,31.9,2.7,28.4,2.9,29.4,3.0,30.3,2.9,31.2,3.1,28.2,3.4,29.0,3.7,30.0,3.3,31.0,3.9,31.7,3.5,28.5,4.3,29.3,4.8,30.2,4.1,31.1,4.6,28.8,5.5,29.7,6.2,30.6,5.3,31.5,5.9,28.1,7.0,29.1,7.9,30.1,6.7,31.4,8.8,29.5,9.6,30.5,11.2,28.7,10.3,31.0,13.0,29.6,1.09,30.4,1.9,31.3,2.0,28.6,1.7,30.8,7.4,
32.0,2.4,32.3,2.6,32.6,2.3,32.9,2.5,33.2,2.7,33.5,2.4,33.8,2.6,34.1,2.3,34.4,2.5,34.7,2.8,35.0,2.4,35.3,2.6,35.6,2.3,35.9,2.7,32.4,2.9,33.4,3.0,34.3,2.9,35.2,3.1,32.2,3.4,33.0,3.7,34.0,3.3,35.0,3.9,35.7,3.5,32.5,4.3,33.3,4.8,34.2,4.1,35.1,4.6,32.8,5.5,33.7,6.2,34.6,5.3,35.5,5.9,32.1,7.0,33.1,7.9,34.1,6.7,35.4,8.8,33.5,9.6,34.5,11.2,32.7,10.3,35.0,12.2,33.9,18.5,34.9,2.0,32.6,1.8,35.8,1.5,
36.0,2.4,36.3,2.6,36.6,2.3,36.9,2.5,37.2,2.7,37.5,2.4,37.8,2.6,38.1,2.3,38.4,2.5,38.7,2.8,39.0,2.4,39.3,2.6,39.6,2.3,39.9,2.7,36.4,3.0,37.4,2.9,38.3,3.2,39.2,3.0,36.2,3.5,37.0,3.9,38.0,3.4,39.0,4.0,36.5,4.5,37.3,5.0,38.2,4.3,39.1,4.8,36.8,5.7,37.7,6.4,38.6,5.5,39.5,6.1,36.1,7.3,37.1,8.2,38.1,7.0,39.4,9.1,37.5,10.0,38.5,11.8,36.7,13.0,39.0,14.5,38.8,17.0,37.9,1.5,
40.0,2.4,40.4,2.6,40.8,2.3,41.2,2.5,41.6,2.7,42.0,2.4,42.4,2.6,42.8,2.3,43.2,2.5,43.6,2.8,44.0,2.4,44.4,2.6,44.8,2.3,40.5,3.0,41.7,2.9,42.9,3.2,44.1,3.0,40.3,3.5,41.3,3.9,42.3,3.4,43.3,4.0,44.3,3.6,40.6,4.5,41.6,5.0,42.6,4.3,43.6,4.8,44.6,5.2,40.9,5.7,41.9,6.4,42.9,5.5,43.9,6.1,44.9,6.8,40.1,7.3,41.1,8.2,42.1,7.0,43.1,9.1,44.1,7.8,40.7,10.0,41.8,11.8,43.0,10.6,44.2,13.0,42.5,15.5,44.5,17.0,43.8,1.5,
45.0,2.5,45.4,2.7,45.8,2.4,46.2,2.6,46.6,2.8,47.0,2.5,47.4,2.7,47.8,2.4,48.2,2.6,48.6,2.9,49.0,2.5,49.4,2.7,49.8,2.4,45.5,3.1,46.7,3.0,47.9,3.3,49.1,3.1,45.3,3.6,46.3,4.0,47.3,3.5,48.3,4.1,49.3,3.7,45.6,4.6,46.6,5.1,47.6,4.4,48.6,4.9,49.6,5.3,45.9,5.8,46.9,6.5,47.9,5.6,48.9,6.2,49.9,6.9,45.1,7.4,46.1,8.3,47.1,7.1,48.1,9.2,49.1,7.9,45.7,10.1,46.8,11.9,48.0,10.7,49.2,13.1,47.5,15.6,49.5,18.0,46.4,1.5,49.6,1.9,48.8,1.5,
50.0,2.5,50.5,2.7,51.0,2.4,51.5,2.6,52.0,2.8,52.5,2.5,53.0,2.7,53.5,2.4,54.0,2.6,54.5,2.9,55.0,2.5,55.5,2.7,50.3,3.1,51.6,3.0,52.9,3.3,54.2,3.1,55.5,3.4,50.2,3.6,51.2,4.0,52.2,3.5,53.2,4.1,54.2,3.7,55.2,4.4,50.6,4.6,51.6,5.1,52.6,4.4,53.6,4.9,54.6,5.3,55.6,4.8,50.9,5.8,51.9,6.5,52.9,5.6,53.9,6.2,54.9,6.9,55.9,6.0,50.1,7.4,51.1,8.3,52.1,7.1,53.1,9.2,54.1,7.9,55.1,8.6,50.7,10.1,51.8,11.9,53.0,10.7,54.2,13.1,55.3,12.0,52.5,15.6,54.5,17.5,51.0,21.0,50.4,1.6,53.6,1.9,
56.0,2.5,56.6,2.7,57.2,2.4,57.8,2.6,58.4,2.8,59.0,2.5,59.6,2.7,60.2,2.4,60.8,2.6,61.4,2.9,62.0,2.5,62.6,2.7,56.4,3.1,58.0,3.0,59.6,3.3,61.2,3.1,62.8,3.4,56.2,3.8,57.6,4.3,59.0,3.6,60.4,4.5,61.8,3.9,56.8,5.0,58.2,5.6,59.6,4.8,61.0,5.4,62.4,6.0,57.0,6.6,58.6,7.4,60.0,6.3,61.6,8.1,62.9,7.0,56.5,9.0,57.9,10.5,59.3,9.6,60.7,11.8,62.1,10.2,57.3,14.0,59.8,16.5,61.5,19.0,59.4,0.86,62.5,1.7,60.6,2.1,
63.0,2.5,63.7,2.7,64.4,2.4,65.1,2.6,65.8,2.8,66.5,2.5,67.2,2.7,67.9,2.4,68.6,2.6,69.3,2.9,70.0,2.5,70.7,2.7,63.4,3.1,65.3,3.0,67.2,3.3,69.1,3.1,70.6,3.4,63.2,3.8,64.8,4.3,66.4,3.6,68.0,4.5,69.6,3.9,63.8,5.0,65.4,5.6,67.0,4.8,68.6,5.4,70.2,6.0,64.0,6.6,65.8,7.4,67.6,6.3,69.4,8.1,70.9,7.0,63.5,9.0,65.1,10.5,66.7,9.6,68.3,11.8,69.9,10.2,64.3,14.0,66.8,16.5,68.9,19.0,65.5,21.0,67.5,1.9,69.5,1.6,
71.0,2.5,71.8,2.7,72.6,2.4,73.4,2.6,74.2,2.8,75.0,2.5,75.8,2.7,76.6,2.4,77.4,2.6,78.2,2.9,79.0,2.5,79.8,2.7,71.4,3.1,73.6,3.0,75.8,3.3,78.0,3.1,79.6,3.4,71.2,3.8,73.0,4.3,74.8,3.6,76.6,4.5,78.4,3.9,71.6,5.0,73.4,5.6,75.2,4.8,77.0,5.4,78.8,6.0,72.0,6.6,73.8,7.4,75.6,6.3,77.4,8.1,79.2,7.0,71.8,9.0,73.6,10.5,75.4,9.6,77.2,11.8,79.0,10.2,72.4,12.5,74.4,14.0,76.4,13.0,78.4,15.0,73.0,16.5,75.0,18.0,77.0,20.0,79.4,22.5,78.0,1.75,79.5,8.5,
80.0,2.5,80.7,2.8,81.4,2.4,82.1,2.6,82.8,2.9,83.5,2.5,84.2,2.7,84.9,2.4,85.6,2.6,86.3,2.9,87.0,2.5,87.7,2.7,88.4,2.4,89.1,2.6,89.8,2.8,80.4,3.2,82.2,3.4,84.0,3.1,85.8,3.5,87.6,3.3,89.4,3.6,80.2,4.0,81.8,4.5,83.4,3.8,85.0,4.7,86.6,4.2,88.2,4.9,89.8,4.4,80.6,5.2,82.2,5.8,83.8,5.0,85.4,6.2,87.0,5.5,88.6,6.5,80.8,7.0,82.4,7.8,84.0,6.7,85.6,8.4,87.2,7.3,88.8,9.0,81.0,9.6,82.6,10.8,84.2,9.4,85.8,11.6,87.4,10.2,89.0,12.4,81.2,13.0,82.8,14.6,84.4,12.2,86.0,15.8,87.6,13.6,89.2,16.8,83.0,18.5,85.0,20.0,87.0,17.5,88.5,21.0,86.0,2.0,84.5,7.5,
90.0,2.5,90.6,2.8,91.2,2.4,91.8,2.6,92.4,2.9,93.0,2.5,93.6,2.7,94.2,2.4,94.8,2.6,95.4,2.9,96.0,2.5,96.6,2.7,97.2,2.4,97.8,2.6,98.4,2.8,99.0,2.7,99.6,2.5,100,2.7,90.4,3.2,92.2,3.4,94.0,3.1,95.8,3.5,97.6,3.3,99.4,3.6,90.2,4.0,91.8,4.5,93.4,3.8,95.0,4.7,96.6,4.2,98.2,4.9,99.8,4.4,90.6,5.2,92.2,5.8,93.8,5.0,95.4,6.2,97.0,5.5,98.6,6.5,100,5.0,100,6.0,90.8,7.0,92.4,7.8,94.0,6.7,95.6,8.4,97.2,7.3,98.8,9.0,100,7.5,100,8.8,91.0,9.6,92.6,10.8,94.2,9.4,95.8,11.6,97.4,10.2,99.0,12.4,100,10.5,100,12.0,91.2,13.0,92.8,14.6,94.4,12.2,96.0,15.8,97.6,13.6,99.2,16.8,100,14.5,93.0,18.5,95.0,20.0,97.0,17.5,98.5,21.0,96.5,23.0,98.0,23.5,99.5,19.0,
75.5,5.8,77.2,7.3,79.0,9.1,80.8,6.4,82.6,8.0,84.4,10.1,86.3,5.7,88.2,7.6,90.1,9.6,92.1,6.1,94.1,8.3,96.2,10.7,98.3,5.9,99.5,7.9,100,9.6,100,11.2,100,13.6,100,16.0,100,4.6,100,3.8,
76.0,12.2,78.5,14.5,81.0,11.2,83.5,16.5,86.0,12.8,88.5,15.1,91.0,11.6,93.5,17.8,96.0,13.9,98.5,18.5,
48.2,5.0,51.8,6.7,55.5,5.4,59.3,7.2,63.2,5.6,67.3,7.6,71.6,5.8,50.0,3.0,53.6,2.9,57.3,3.2,61.2,2.9,65.2,3.2,69.4,3.0,73.8,3.1,
23.5,2.4,25.5,2.3,27.5,2.5,29.5,2.3,31.5,2.5,33.5,2.3,35.5,2.5,37.5,2.3,39.5,2.5,41.5,2.3,43.5,2.5
];

var visso = [
19.9,4.5,20.1,2.0,20.5,6.4,20.8,9.4,21.0,2.3,21.4,3.6,21.7,2.6,21.9,5.0,
22.2,3.4,22.5,2.2,22.9,2.7,23.2,4.9,23.6,2.5,23.9,3.0,24.2,5.6,24.5,2.4,24.8,1.29,24.3,7.8,23.0,2.9,24.9,3.8,
25.1,2.6,25.4,3.3,25.7,2.4,26.0,7.9,26.3,2.8,26.6,4.4,26.9,2.5,27.2,3.1,27.5,6.0,27.8,2.7,25.5,10.2,26.2,5.2,26.8,3.6,27.4,2.3,25.9,1.9,27.0,9.8,26.5,2.6,27.9,4.8,
28.1,2.5,28.4,3.8,28.8,6.6,29.1,2.7,29.4,11.0,29.8,4.2,30.1,2.4,30.4,8.0,30.8,2.9,31.1,5.3,31.5,2.6,31.8,3.4,28.6,9.5,29.6,2.2,30.6,12.5,31.3,7.2,29.0,1.9,30.0,4.7,31.0,2.0,31.6,1.6,
32.1,2.5,32.5,3.9,32.9,6.2,33.3,2.7,33.7,10.5,34.1,4.4,34.5,2.4,34.9,8.3,35.3,2.8,35.7,5.1,32.3,12.5,33.1,2.3,33.9,7.1,34.7,3.2,35.5,4.6,32.7,5.6,34.3,2.6,35.1,1.8,33.5,3.5,35.9,9.0,
36.1,2.6,36.5,4.1,36.9,6.5,37.3,2.8,37.7,9.6,38.1,4.7,38.5,2.5,38.9,7.8,39.3,3.0,39.7,5.4,36.3,11.5,37.1,1.02,37.9,0.78,38.7,3.6,39.5,2.4,36.7,5.9,37.5,3.3,38.3,13.0,39.1,1.8,39.9,6.9,36.9,15.0,38.6,2.6,
40.1,2.6,40.4,3.2,40.7,4.5,41.0,6.1,41.3,8.4,41.6,2.8,41.9,5.2,42.2,7.0,42.5,3.6,42.8,9.5,43.1,2.5,43.4,4.9,43.7,6.6,44.0,3.1,44.3,8.0,44.6,5.6,44.9,2.7,40.5,11.5,41.5,13.5,42.5,10.5,43.5,12.0,44.6,17.0,40.9,1.8,42.0,1.6,43.0,1.7,44.2,4.2,41.2,5.0,42.7,7.6,43.9,6.0,44.8,9.2,
45.1,2.6,45.4,3.3,45.7,4.6,46.0,6.2,46.3,8.5,46.6,2.9,46.9,5.3,47.2,7.1,47.5,3.7,47.8,9.6,48.1,2.5,48.4,5.0,48.7,6.7,49.0,3.2,49.3,8.1,49.6,5.7,49.9,2.8,45.5,11.6,46.5,13.6,47.5,10.6,48.0,19.5,48.5,12.1,49.5,15.0,45.9,4.1,46.8,6.0,47.7,4.5,48.6,7.5,49.4,4.3,46.2,2.4,47.3,2.7,48.8,3.6,49.7,6.4,
50.2,2.6,50.6,3.3,51.0,4.6,51.4,6.2,51.8,8.5,52.2,2.9,52.6,5.3,53.0,7.1,53.4,3.7,53.8,9.6,54.2,2.5,54.6,5.0,55.0,6.7,55.4,3.2,55.8,8.1,50.4,5.7,51.2,2.8,52.0,11.6,52.8,13.6,53.6,10.6,54.4,12.1,55.2,15.0,50.8,4.1,51.6,3.5,52.4,4.5,53.2,2.7,54.0,4.3,54.8,3.6,55.6,4.8,51.8,2.4,53.8,1.9,55.5,2.2,
56.2,2.6,56.7,3.3,57.2,4.6,57.7,6.2,58.2,8.5,58.7,2.9,59.2,5.3,59.7,7.1,60.2,3.7,60.7,9.6,61.2,2.5,61.7,5.0,62.2,6.7,62.7,3.2,56.8,23.0,61.0,22.5,56.4,11.6,57.4,13.6,58.4,10.6,59.4,12.1,60.4,16.0,61.4,11.0,62.4,14.5,56.9,4.1,57.9,3.6,58.9,4.5,59.9,2.7,60.9,4.3,61.9,3.6,62.9,4.8,58.0,1.7,62.5,8.8,
63.1,2.6,63.7,3.3,64.3,4.6,64.9,6.2,65.5,8.5,66.1,2.9,66.7,5.3,67.3,7.1,67.9,3.7,68.5,9.6,69.1,2.5,69.7,5.0,70.3,6.7,70.9,3.2,63.4,11.6,64.6,13.6,65.8,10.6,67.0,12.1,68.2,16.0,69.4,18.5,70.6,14.5,66.0,21.0,63.6,4.1,64.8,3.6,66.0,4.5,67.2,2.7,68.4,4.3,69.6,3.6,70.8,4.8,66.4,7.5,68.8,6.3,64.0,9.0,
71.1,2.6,71.8,3.3,72.5,4.6,73.2,6.2,73.9,8.5,74.6,2.9,75.3,5.3,76.0,7.1,76.7,3.7,77.4,9.6,78.1,2.5,78.8,5.0,79.5,6.7,71.4,11.6,72.8,13.6,74.2,10.6,75.6,12.1,77.0,16.0,78.4,18.5,79.8,14.5,73.5,21.0,76.0,19.5,78.9,25.0,71.6,4.1,73.0,3.6,74.4,4.5,75.8,2.7,77.2,4.3,78.6,3.6,79.9,4.8,72.2,7.5,75.0,8.8,77.8,6.3,79.2,10.0,76.5,2.0,
80.2,2.6,81.0,3.3,81.8,4.6,82.6,6.2,83.4,8.5,84.2,2.9,85.0,5.3,85.8,7.1,86.6,3.7,87.4,9.6,88.2,2.5,89.0,5.0,89.8,6.7,80.5,11.6,82.1,13.6,83.7,10.6,85.3,12.1,86.9,16.0,88.5,18.5,89.9,14.5,81.5,20.5,85.0,24.0,84.0,22.0,87.5,21.0,80.6,4.1,82.2,3.6,83.8,4.5,85.4,2.7,87.0,4.3,88.6,3.6,80.9,7.5,83.0,8.8,86.0,6.3,89.0,10.0,81.3,3.0,84.6,5.8,87.8,7.8,89.4,3.2,82.8,5.0,86.4,9.0,
90.2,2.6,90.8,3.3,91.4,4.6,92.0,6.2,92.6,8.5,93.2,2.9,93.8,5.3,94.4,7.1,95.0,3.7,95.6,9.6,96.2,2.5,96.8,5.0,97.4,6.7,98.0,3.2,98.6,8.1,99.2,5.7,99.8,7.4,100,4.4,100,6.0,100,3.2,90.5,11.6,92.1,13.6,93.7,10.6,95.3,12.1,96.9,16.0,98.5,18.5,99.9,14.5,100,11.0,91.5,20.5,94.5,19.0,97.5,22.0,90.6,4.1,92.2,3.6,93.8,4.5,95.4,2.7,97.0,4.3,98.6,3.6,99.5,9.5,91.0,7.5,94.0,8.8,97.0,3.3,99.0,6.3,93.0,5.8,96.0,7.8,98.0,12.5
];

var norcia = [
19.6,5.7,20.3,2.0,20.5,2.8,20.8,6.0,21.0,8.7,21.2,2.7,21.3,1.19,21.7,1.19,21.4,3.4,21.6,2.4,21.8,5.2,21.9,2.9,21.1,4.1,21.5,7.8,21.9,9.5,
22.0,2.6,22.1,3.0,22.2,2.4,22.3,3.4,22.4,2.8,22.5,2.5,22.6,3.2,22.7,2.3,22.8,2.7,22.9,3.5,23.0,2.5,23.1,2.9,23.2,2.4,23.3,3.3,23.4,2.6,23.5,3.0,23.6,2.3,23.7,2.8,23.8,3.6,23.9,2.5,24.0,2.7,24.1,3.1,24.2,2.4,24.3,2.9,24.4,3.3,24.5,2.6,24.6,2.3,24.7,3.4,24.8,2.8,24.9,2.5,22.4,2.9,23.0,3.1,23.6,2.6,24.2,3.0,24.8,2.4,23.4,2.7,
22.0,4.0,22.3,4.9,22.6,5.9,22.9,7.1,23.2,8.5,23.5,9.8,23.8,4.3,24.1,5.3,24.4,6.4,24.7,7.6,22.2,6.6,22.8,4.6,23.4,5.6,24.0,8.9,24.6,4.1,22.5,3.8,23.1,6.2,23.7,7.4,24.3,3.9,24.9,5.0,22.4,2.0,23.3,1.9,24.0,1.7,24.6,2.1,
25.0,2.6,25.1,3.0,25.2,2.4,25.3,3.4,25.4,2.8,25.5,2.5,25.6,3.2,25.7,2.3,25.8,2.7,25.9,3.5,26.0,2.5,26.1,2.9,26.2,2.4,26.3,3.3,26.4,2.6,26.5,3.0,26.6,2.3,26.7,2.8,26.8,3.6,26.9,2.5,27.0,2.7,27.1,3.1,27.2,2.4,27.3,2.9,27.4,3.3,27.5,2.6,27.6,2.3,27.7,3.4,27.8,2.8,27.9,2.5,25.4,2.9,26.0,3.1,26.6,2.6,27.2,3.0,27.8,2.4,26.4,2.7,
25.0,4.0,25.3,4.9,25.6,5.9,25.9,7.1,26.2,8.5,26.5,9.8,26.8,4.3,27.1,5.3,27.4,6.4,27.7,7.6,25.2,6.6,25.8,4.6,26.4,5.6,27.0,8.9,27.6,4.1,25.5,3.8,26.1,6.2,26.7,7.4,27.3,3.9,27.9,5.0,25.7,11.0,26.9,10.2,27.5,12.0,26.3,10.8,26.1,18.6,27.0,13.5,25.6,1.03,27.8,1.0,26.5,1.8,
28.0,2.6,28.1,3.0,28.2,2.4,28.3,3.4,28.4,2.8,28.5,2.5,28.6,3.2,28.7,2.3,28.8,2.7,28.9,3.5,29.0,2.5,29.2,2.9,29.4,2.4,29.6,3.3,29.8,2.6,30.0,3.0,30.2,2.3,30.4,2.8,30.6,3.6,30.8,2.5,31.0,2.7,31.2,3.1,31.4,2.4,31.6,2.9,31.8,3.3,31.9,2.6,28.5,2.3,29.1,3.4,29.7,2.8,30.3,2.5,30.9,3.2,31.5,2.7,28.3,2.5,29.5,2.7,30.7,2.4,31.7,3.5,
28.0,4.0,28.3,4.9,28.6,5.9,28.9,7.1,29.2,8.5,29.5,9.8,29.8,4.3,30.1,5.3,30.4,6.4,30.7,7.6,31.0,4.5,31.3,5.5,31.6,6.8,31.9,8.0,28.2,6.6,28.8,4.6,29.4,5.6,30.0,8.9,30.6,4.1,31.2,9.4,28.5,3.8,29.1,6.2,29.7,7.4,30.3,3.9,30.9,5.0,31.5,4.2,28.7,11.0,29.9,12.5,30.8,10.6,31.7,13.6,28.9,1.9,29.8,1.6,30.6,2.0,31.4,1.5,
32.0,2.6,32.2,3.0,32.4,2.4,32.6,3.4,32.8,2.8,33.0,2.5,33.2,3.2,33.4,2.3,33.6,2.7,33.8,3.5,34.0,2.5,34.2,2.9,34.4,2.4,34.6,3.3,34.8,2.6,35.0,3.0,35.2,2.3,35.4,2.8,35.6,3.6,35.8,2.5,32.3,2.7,32.9,3.1,33.5,2.4,34.1,2.9,34.7,3.3,35.3,2.6,35.9,2.3,33.1,3.4,34.3,2.8,35.5,2.5,
32.0,4.0,32.3,4.9,32.6,5.9,32.9,7.1,33.2,8.5,33.5,9.8,33.8,4.3,34.1,5.3,34.4,6.4,34.7,7.6,35.0,4.5,35.3,5.5,35.6,6.8,35.9,8.0,32.2,6.6,32.8,4.6,33.4,5.6,34.0,8.9,34.6,4.1,35.2,9.4,32.5,3.8,33.1,6.2,33.7,7.4,34.3,3.9,34.9,5.0,35.5,4.2,32.1,10.4,35.7,10.9,32.7,11.5,33.9,12.8,34.8,14.5,35.4,12.0,33.3,16.0,32.4,1.8,33.6,1.5,34.5,2.0,35.1,1.7,
36.0,2.7,36.2,3.1,36.4,2.5,36.6,3.5,36.8,2.9,37.0,2.6,37.2,3.3,37.4,2.4,37.6,2.8,37.8,3.6,38.0,2.6,38.2,3.0,38.4,2.5,38.6,3.4,38.8,2.7,39.0,3.1,39.2,2.4,39.4,2.9,39.6,3.7,39.8,2.6,36.3,2.8,37.1,3.2,37.9,2.5,38.7,3.0,39.5,3.4,36.9,2.7,38.3,3.8,
36.0,4.1,36.3,5.0,36.6,6.0,36.9,7.2,37.2,8.6,37.5,10.0,37.8,4.4,38.1,5.4,38.4,6.5,38.7,7.7,39.0,4.6,39.3,5.6,39.6,6.9,39.9,8.2,36.2,6.7,36.8,4.7,37.4,5.7,38.0,9.0,38.6,4.2,39.2,9.5,36.5,3.9,37.1,6.3,37.7,7.5,38.3,4.0,38.9,5.1,39.5,4.3,36.1,11.0,39.7,10.5,36.7,12.0,37.9,13.4,38.8,15.0,39.4,12.5,37.3,17.0,38.2,11.2,36.2,1.14,37.6,1.8,38.5,2.1,39.3,1.5,
40.0,2.8,40.3,3.3,40.6,2.6,40.9,3.8,41.2,3.0,41.5,2.5,41.8,3.5,42.1,2.7,42.4,3.9,42.7,2.9,43.0,3.2,43.3,2.6,43.6,3.6,43.9,2.8,44.2,3.1,44.5,2.5,44.8,3.7,40.5,3.0,41.6,2.7,42.6,3.4,43.5,2.9,44.4,3.3,41.0,2.5,42.9,2.6,44.0,2.7,
40.0,4.3,40.4,5.1,40.8,6.0,41.2,7.1,41.6,8.4,42.0,9.9,42.4,4.5,42.8,5.4,43.2,6.4,43.6,7.5,44.0,8.9,44.4,10.5,44.8,4.2,40.2,9.6,40.6,4.7,41.0,5.6,41.4,6.6,41.8,4.1,42.2,7.8,42.6,9.2,43.0,4.9,43.4,5.8,43.8,6.9,44.2,8.1,44.6,4.4,40.9,7.5,42.3,6.2,43.7,5.2,44.9,6.5,41.3,10.7,43.1,10.1,44.3,5.0,
40.7,12.0,41.5,13.6,42.3,11.3,43.1,15.2,43.9,12.7,44.7,14.1,41.1,16.8,43.4,23.6,43.6,23.6,42.0,18.5,44.2,19.6,40.3,11.6,44.5,1.12,41.9,1.8,42.7,2.1,43.8,1.5,40.8,2.2,44.9,1.9,
45.0,2.8,45.3,3.3,45.6,2.6,45.9,3.8,46.2,3.0,46.5,2.5,46.8,3.5,47.1,2.7,47.4,3.9,47.7,2.9,48.0,3.2,48.3,2.6,48.6,3.6,48.9,2.8,49.2,3.1,49.5,2.5,49.8,3.7,45.5,3.0,46.6,2.7,47.6,3.4,48.5,2.9,49.4,3.3,46.0,2.5,47.9,2.6,49.0,2.7,
45.0,4.3,45.4,5.1,45.8,6.0,46.2,7.1,46.6,8.4,47.0,9.9,47.4,4.5,47.8,5.4,48.2,6.4,48.6,7.5,49.0,8.9,49.4,10.5,49.8,4.2,45.2,9.6,45.6,4.7,46.0,5.6,46.4,6.6,46.8,4.1,47.2,7.8,47.6,9.2,48.0,4.9,48.4,5.8,48.8,6.9,49.2,8.1,49.6,4.4,45.9,7.5,47.3,6.2,48.7,5.2,49.9,6.5,46.3,10.7,48.1,10.1,49.3,5.0,
45.7,12.0,46.5,13.6,47.3,11.3,48.1,15.2,48.9,12.7,49.7,14.1,46.1,16.8,47.5,21.5,48.5,18.5,49.2,19.6,45.3,11.6,47.0,22.8,47.5,1.5,46.2,2.1,48.2,1.9,49.1,2.2,45.5,1.8,
50.0,2.8,50.4,3.3,50.8,2.6,51.2,3.8,51.6,3.0,52.0,2.5,52.4,3.5,52.8,2.7,53.2,3.9,53.6,2.9,54.0,3.2,54.4,2.6,54.8,3.6,55.2,2.8,55.6,3.1,50.6,3.0,51.8,2.7,53.0,3.4,54.2,2.9,55.4,3.3,51.0,2.5,53.4,2.6,55.8,2.7,52.2,2.9,
50.0,4.3,50.4,5.1,50.8,6.0,51.2,7.1,51.6,8.4,52.0,9.9,52.4,4.5,52.8,5.4,53.2,6.4,53.6,7.5,54.0,8.9,54.4,10.5,54.8,4.2,55.2,9.6,55.6,4.7,50.2,5.6,50.6,6.6,51.0,4.1,51.4,7.8,51.8,9.2,52.2,4.9,52.6,5.8,53.0,6.9,53.4,8.1,53.8,4.4,54.2,7.5,54.6,6.2,55.0,5.2,55.4,6.5,55.8,10.7,51.3,10.1,52.7,5.0,54.1,11.0,55.5,8.0,
50.3,12.0,51.1,13.6,51.9,11.3,52.7,15.2,53.5,12.7,54.3,14.1,55.1,16.8,55.9,21.5,50.7,18.5,51.5,19.6,52.3,11.6,53.1,22.8,53.9,17.5,54.7,13.0,55.5,12.4,52.0,24.0,50.9,2.1,52.5,1.9,54.0,2.2,55.3,1.6,51.7,1.7,53.7,2.0,
56.0,2.8,56.5,3.3,57.0,2.6,57.5,3.8,58.0,3.0,58.5,2.5,59.0,3.5,59.5,2.7,60.0,3.9,60.5,2.9,61.0,3.2,61.5,2.6,62.0,3.6,62.5,2.8,56.3,3.1,57.8,2.7,59.3,3.4,60.8,2.9,62.3,3.3,57.2,2.5,58.8,2.6,60.3,2.7,61.8,2.9,62.8,2.6,
56.0,4.3,56.4,5.1,56.8,6.0,57.2,7.1,57.6,8.4,58.0,9.9,58.4,4.5,58.8,5.4,59.2,6.4,59.6,7.5,60.0,8.9,60.4,10.5,60.8,4.2,61.2,9.6,61.6,4.7,62.0,5.6,62.4,6.6,62.8,4.1,56.2,7.8,56.6,9.2,57.0,4.9,57.4,5.8,57.8,6.9,58.2,8.1,58.6,4.4,59.0,7.5,59.4,6.2,59.8,5.2,60.2,6.5,60.6,10.7,61.0,10.1,61.4,5.0,61.8,11.0,62.2,8.0,
56.3,12.0,57.1,13.6,57.9,11.3,58.7,15.2,59.5,12.7,60.3,14.1,61.1,16.8,61.9,21.5,56.7,18.5,57.5,19.6,58.3,11.6,59.1,22.8,59.9,17.5,60.7,13.0,61.5,24.5,62.3,12.4,57.7,1.26,59.0,2.1,60.5,1.8,62.0,2.2,
63.0,2.8,63.6,3.3,64.2,2.6,64.8,3.8,65.4,3.0,66.0,2.5,66.6,3.5,67.2,2.7,67.8,3.9,68.4,2.9,69.0,3.2,69.6,2.6,70.2,3.6,70.8,2.8,63.3,3.1,65.1,2.7,66.9,3.4,68.7,2.9,70.5,3.3,64.5,2.5,66.3,2.6,68.1,2.7,69.9,2.9,
63.0,4.3,63.4,5.1,63.8,6.0,64.2,7.1,64.6,8.4,65.0,9.9,65.4,4.5,65.8,5.4,66.2,6.4,66.6,7.5,67.0,8.9,67.4,10.5,67.8,4.2,68.2,9.6,68.6,4.7,69.0,5.6,69.4,6.6,69.8,4.1,70.2,7.8,70.6,9.2,63.2,4.9,63.7,5.8,64.3,6.9,64.9,8.1,65.5,4.4,66.1,7.5,66.7,6.2,67.3,5.2,67.9,6.5,68.5,10.7,69.1,10.1,69.7,5.0,70.3,11.0,70.9,8.0,
63.3,12.0,64.1,13.6,64.9,11.3,65.7,15.2,66.5,12.7,67.3,14.1,68.1,16.8,68.9,21.5,69.7,18.5,70.5,19.6,63.7,11.6,65.3,22.8,66.9,17.5,68.5,13.0,70.1,24.5,67.6,23.0,64.6,2.2,67.0,1.9,69.3,2.1,
71.0,2.8,71.7,3.3,72.4,2.6,73.1,3.8,73.8,3.0,74.5,2.5,75.2,3.5,75.9,2.7,76.6,3.9,77.3,2.9,78.0,3.2,78.7,2.6,79.4,3.6,71.3,3.1,73.3,2.7,75.3,3.4,77.3,2.9,79.3,3.3,72.0,2.5,74.0,2.6,76.0,2.7,78.0,2.9,79.8,2.5,
71.0,4.3,71.5,5.1,72.0,6.0,72.5,7.1,73.0,8.4,73.5,9.9,74.0,4.5,74.5,5.4,75.0,6.4,75.5,7.5,76.0,8.9,76.5,10.5,77.0,4.2,77.5,9.6,78.0,4.7,78.5,5.6,79.0,6.6,79.5,4.1,71.2,7.8,71.8,9.2,72.4,4.9,73.0,5.8,73.6,6.9,74.2,8.1,74.8,4.4,75.4,7.5,76.0,6.2,76.6,5.2,77.2,6.5,77.8,10.7,78.4,10.1,79.0,5.0,79.6,11.0,
71.3,12.0,72.2,13.6,73.1,11.3,74.0,15.2,74.9,12.7,75.8,14.1,76.7,16.8,77.6,21.5,78.5,18.5,79.4,19.6,71.7,11.6,73.5,22.8,75.3,17.5,77.1,13.0,78.9,24.5,76.0,24.0,79.0,2.0,75.6,2.2,72.8,2.1,
80.0,2.8,80.8,3.3,81.6,2.6,82.4,3.8,83.2,3.0,84.0,2.5,84.8,3.5,85.6,2.7,86.4,3.9,87.2,2.9,88.0,3.2,88.8,2.6,89.6,3.6,80.4,3.1,82.6,2.7,84.8,3.4,87.0,2.9,89.2,3.3,81.2,2.5,83.6,2.6,86.0,2.7,88.4,2.9,
80.0,4.3,80.5,5.1,81.0,6.0,81.5,7.1,82.0,8.4,82.5,9.9,83.0,4.5,83.5,5.4,84.0,6.4,84.5,7.5,85.0,8.9,85.5,10.5,86.0,4.2,86.5,9.6,87.0,4.7,87.5,5.6,88.0,6.6,88.5,4.1,89.0,7.8,89.5,9.2,80.2,4.9,80.9,5.8,81.6,6.9,82.3,8.1,83.0,4.4,83.7,7.5,84.4,6.2,85.1,5.2,85.8,6.5,86.5,10.7,87.2,10.1,87.9,5.0,88.6,11.0,89.3,8.0,
80.3,12.0,81.2,13.6,82.1,11.3,83.0,15.2,83.9,12.7,84.8,14.1,85.7,16.8,86.6,21.5,87.5,18.5,88.4,19.6,89.3,24.5,80.7,11.6,82.5,22.8,84.3,17.5,86.1,13.0,87.9,24.5,89.7,22.0,81.6,20.0,85.0,24.8,88.8,15.5,79.9,2.1,84.3,1.9,88.8,2.3,
90.0,2.8,90.7,3.3,91.4,2.6,92.1,3.8,92.8,3.0,93.5,2.5,94.2,3.5,94.9,2.7,95.6,3.9,96.3,2.9,97.0,3.2,97.7,2.6,98.4,3.6,99.1,2.8,99.8,3.1,100,2.6,90.4,3.1,92.6,2.7,94.8,3.4,97.0,2.9,99.2,3.3,91.2,2.5,93.6,2.6,96.0,2.7,98.4,2.6,
90.0,4.3,90.5,5.1,91.0,6.0,91.5,7.1,92.0,8.4,92.5,9.9,93.0,4.5,93.5,5.4,94.0,6.4,94.5,7.5,95.0,8.9,95.5,10.5,96.0,4.2,96.5,9.6,97.0,4.7,97.5,5.6,98.0,6.6,98.5,4.1,99.0,7.8,99.5,9.2,100,4.9,100,5.8,100,6.9,100,8.1,100,4.4,90.2,7.5,90.9,6.2,91.6,5.2,92.3,6.5,93.0,10.7,93.7,10.1,94.4,5.0,95.1,11.0,95.8,8.0,96.5,6.3,97.2,8.5,97.9,10.0,98.6,5.3,99.3,11.5,99.9,4.0,
90.3,12.0,91.2,13.6,92.1,11.3,93.0,15.2,93.9,12.7,94.8,14.1,95.7,16.8,96.6,21.5,97.5,18.5,98.4,19.6,99.3,24.5,100,12.5,100,14.5,100,17.0,100,20.0,90.7,11.6,92.5,22.8,94.3,17.5,96.1,13.0,97.9,24.5,99.7,22.0,91.6,20.0,95.0,24.8,96.6,2.5,98.0,2.5,99.0,2.7,
41.3,12.8,43.8,16.1,46.2,10.9,48.6,12.2,51.2,15.4,53.7,11.1,56.3,14.6,59.2,18.1,61.1,13.1,63.1,15.7,65.7,19.2,67.7,11.5,69.8,14.9,72.0,17.6,74.2,10.7,76.5,13.7,78.8,16.3,81.3,19.8,83.8,10.9,86.4,13.9,89.0,17.1,91.8,10.6,94.6,13.3,97.5,16.5,99.2,19.9,
40.6,6.9,42.2,8.3,43.8,7.2,45.4,9.1,47.0,6.6,48.6,8.7,50.3,7.0,52.0,9.4,53.7,6.4,55.5,8.2,57.3,9.9,59.2,7.1,61.1,8.6,63.1,6.8,65.1,9.2,67.2,7.3,69.3,8.9,71.5,6.5,73.8,9.6,76.1,7.8,78.5,6.2,81.0,9.1,83.5,7.4,86.1,8.5,88.8,6.1,91.6,9.9,94.4,7.7,97.3,8.7,99.6,9.8,
40.9,5.5,42.5,4.9,44.1,5.9,45.7,4.4,47.3,5.2,49.0,6.1,50.7,4.6,52.4,5.4,54.2,4.3,56.0,5.8,57.8,4.8,59.7,6.0,61.6,4.5,63.6,5.5,65.6,4.7,67.7,5.9,69.8,4.4,72.0,5.3,74.3,6.1,76.6,4.6,79.0,5.6,81.5,4.3,84.0,5.7,86.6,4.6,89.3,6.0,92.1,4.9,94.9,5.4,97.8,4.5,99.7,5.5,
41.7,3.5,44.3,4.0,47.1,3.3,49.6,3.7,52.2,4.1,55.0,3.4,57.9,3.9,60.9,3.2,64.0,3.8,67.3,4.0,70.7,3.4,74.3,3.9,78.0,3.3,82.0,3.6,86.1,4.0,90.4,3.5,94.9,3.9,99.4,3.3,
22.5,4.5,24.5,6.3,26.5,5.1,28.5,4.7,30.5,6.5,32.5,5.4,34.5,4.5,36.5,6.6,38.5,5.3,23.5,3.6,27.0,3.7,31.0,3.6,35.0,3.5,39.0,3.9
];

var panelData = [preSeq, seq1617, amatrice, visso, norcia];

// where each axes box sits on the page, and where its texts go; mw = marker stroke width
var layout = [
  {l: 237, r: 650.7, t: 58.3, b: 248.3, big: true, mw: 1.1, tx: 450.8, ty: 38, tw: 125, ylx: 204, yly: 153, xlx: 443.8, xly: 291, xlw: 218, ax: 245.7, ay: [81.7, 98.3], aw: [79, 73], leg: {x: 502.7, y: 207.7, w: 99, h: 37.3}},
  {l: 757, r: 1161, t: 57.7, b: 243.7, big: true, mw: 1.8, tx: 960.8, ty: 38, tw: 190, ylx: 724, yly: 150, xlx: 959, xly: 283, xlw: 213, ax: 765.7, ay: [80, 96.7], aw: [78, 72], leg: {x: 1016.7, y: 203.3, w: 96.6, h: 35.7}},
  {l: 148, r: 470.7, t: 349, b: 499.5, big: false, mw: 1.1, tx: 307.5, ty: 336.7, tw: 171.7, ylx: 121.5, yly: 414, xlx: 300, xly: 531, xlw: 172, ax: 154, ay: [367.3, 379], aw: [63, 59], leg: {x: 356.7, y: 466.7, w: 79.3, h: 29.3}},
  {l: 533.2, r: 864, t: 349, b: 499.5, big: false, mw: 0.85, tx: 689.7, ty: 336.7, tw: 142.7, ylx: 506.7, yly: 424, xlx: 699, xly: 532, xlw: 172, ax: 541.7, ay: [367.3, 380], aw: [63, 58], leg: {x: 745, y: 468.3, w: 80, h: 28.4}},
  {l: 919.7, r: 1246.3, t: 348, b: 496, big: false, mw: 1.6, tx: 1075.5, ty: 331.7, tw: 152.4, ylx: 891.7, yly: 416.7, xlx: 1083, xly: 525, xlw: 173, ax: 926.7, ay: [365.7, 377.7], aw: [63, 59], leg: {x: 1129.3, y: 464.3, w: 80, h: 29}}
];

var svg = d3.select("svg");
var boxColor = "#c3c3c3", inkColor = "#262626";

// figure frame
svg.append("rect").attr("x", 3.5).attr("y", 3.5).attr("width", 1349).attr("height", 609.5)
  .attr("fill", "none").attr("stroke", "#c8c8c8").attr("stroke-width", 1);

layout.forEach(function(p, i) {
  var x = d3.scaleLinear().domain([1.2, 2.1]).range([p.l, p.r]);
  var y = d3.scaleLinear().domain([-0.14, 1.5]).range([p.b, p.t]);
  var fs = p.big ? 15 : 11, tk = p.big ? 4 : 3, r = p.big ? 2.2 : 1.8;
  var g = svg.append("g");

  // points
  var pts = d3.range(0, panelData[i].length, 2).map(function(k) {
    return [panelData[i][k], panelData[i][k + 1]];
  });
  g.append("g").selectAll("circle").data(pts).join("circle")
    .attr("cx", function(d) { return x(Math.log10(d[0])); })
    .attr("cy", function(d) { return y(Math.log10(d[1])); })
    .attr("r", r)
    .attr("fill", "none").attr("stroke", "#000").attr("stroke-opacity", 0.9)
    .attr("stroke-width", p.mw);

  // fitted curve: log10(t) = A + B log10(r)
  var fit = [fitStart[i], fitEnd[i]].map(function(d) {
    var lr = Math.log10(d);
    return [lr, coefA[i] + coefB[i] * lr];
  });
  g.append("line")
    .attr("x1", x(fit[0][0])).attr("y1", y(fit[0][1]))
    .attr("x2", x(fit[1][0])).attr("y2", y(fit[1][1]))
    .attr("stroke", "#f00").attr("stroke-width", p.big ? 2 : 1.6);

  // axes, ticks pointing inward like MATLAB
  var fmtX = function(d, k) { return xTickText[k]; };
  var fmtY = function(d, k) { return yTickText[k]; };
  var ax = [
    g.append("g").attr("transform", "translate(0," + p.b + ")")
      .call(d3.axisBottom(x).tickValues(xTickPos).tickFormat(fmtX).tickSizeInner(-tk).tickSizeOuter(0).tickPadding(p.big ? 9.5 : 8)),
    g.append("g").attr("transform", "translate(" + p.l + ",0)")
      .call(d3.axisLeft(y).tickValues(yTickPos).tickFormat(fmtY).tickSizeInner(-tk).tickSizeOuter(0).tickPadding(p.big ? 4.5 : 3.5)),
    g.append("g").attr("transform", "translate(0," + p.t + ")")
      .call(d3.axisTop(x).tickValues(xTickPos).tickFormat("").tickSizeInner(-tk).tickSizeOuter(0)),
    g.append("g").attr("transform", "translate(" + p.r + ",0)")
      .call(d3.axisRight(y).tickValues(yTickPos).tickFormat("").tickSizeInner(-tk).tickSizeOuter(0))
  ];
  ax.forEach(function(a) {
    a.select(".domain").remove();
    a.selectAll("line").attr("stroke", boxColor);
    a.selectAll("text").attr("font-size", fs).attr("fill", inkColor)
      .attr("font-family", '"Liberation Sans", Arial, sans-serif');
  });
  g.append("rect").attr("x", p.l).attr("y", p.t).attr("width", p.r - p.l).attr("height", p.b - p.t)
    .attr("fill", "none").attr("stroke", boxColor).attr("stroke-width", 1);

  // title
  g.append("text").attr("x", p.tx).attr("y", p.ty).attr("text-anchor", "middle")
    .attr("font-size", p.big ? 18 : 16).attr("fill", "#111")
    .attr("textLength", p.tw).attr("lengthAdjust", "spacingAndGlyphs")
    .text(titles[i]);

  // axis labels
  g.append("text").attr("x", p.xlx).attr("y", p.xly).attr("text-anchor", "middle")
    .attr("font-size", p.big ? 16 : 12.5).attr("font-weight", "bold").attr("fill", "#111")
    .attr("textLength", p.xlw).attr("lengthAdjust", "spacingAndGlyphs")
    .text("Hypocentral Distance (km)");
  g.append("text").attr("transform", "translate(" + p.ylx + "," + p.yly + ") rotate(-90)")
    .attr("text-anchor", "middle").attr("dy", "0.35em")
    .attr("font-size", p.big ? 15.6 : 11.9).attr("font-weight", "bold").attr("fill", "#111")
    .text("Peak delay (s)");

  // coefficients
  var afs = p.big ? 14 : 10.5;
  g.append("text").attr("x", p.ax).attr("y", p.ay[0]).attr("font-size", afs).attr("fill", "#111")
    .attr("textLength", p.aw[0]).attr("lengthAdjust", "spacingAndGlyphs")
    .text("A(f) = " + coefA[i].toFixed(2));
  g.append("text").attr("x", p.ax).attr("y", p.ay[1]).attr("font-size", afs).attr("fill", "#111")
    .attr("textLength", p.aw[1]).attr("lengthAdjust", "spacingAndGlyphs")
    .text("B(f) = " + coefB[i].toFixed(2));

  // legend
  var L = p.leg, s = L.h / 37, lfs = p.big ? 14.5 : 11;
  var lg = g.append("g");
  lg.append("rect").attr("x", L.x).attr("y", L.y).attr("width", L.w).attr("height", L.h)
    .attr("fill", "#fff").attr("stroke", "#bdbdbd").attr("stroke-width", 1);
  lg.append("circle").attr("cx", L.x + 12.3 * s).attr("cy", L.y + 10 * s).attr("r", r)
    .attr("fill", "none").attr("stroke", "#111").attr("stroke-width", 0.8);
  lg.append("text").attr("x", L.x + 24 * s).attr("y", L.y + 14.5 * s).attr("font-size", lfs).attr("fill", "#111").text("data");
  lg.append("line").attr("x1", L.x + 2.5 * s).attr("x2", L.x + 20.5 * s)
    .attr("y1", L.y + 27.3 * s).attr("y2", L.y + 27.3 * s)
    .attr("stroke", "#f00").attr("stroke-width", p.big ? 2 : 1.6);
  lg.append("text").attr("x", L.x + 24 * s).attr("y", L.y + 32.3 * s).attr("font-size", lfs).attr("fill", "#111").text("fitted curve");
});

// caption
var cap = svg.append("g").attr("font-family", '"Liberation Sans Narrow", "DejaVu Sans Condensed", "Liberation Sans", Arial, sans-serif')
  .attr("font-size", 15.5).attr("fill", "#222");
cap.append("text").attr("x", 17).attr("y", 574).attr("font-weight", "bold")
  .attr("textLength", 92).attr("lengthAdjust", "spacingAndGlyphs").text("FIGURE 3 |");
cap.append("text").attr("x", 113).attr("y", 574)
  .attr("textLength", 1187).attr("lengthAdjust", "spacingAndGlyphs")
  .text("Log\u2013log plot of peak delay (s) as a function of the hypocentral distances (km) for the pre-sequence, 2016\u20132017 sequence, and single sequences at");
cap.append("text").attr("x", 17).attr("y", 601)
  .attr("textLength", 1211).attr("lengthAdjust", "spacingAndGlyphs")
  .text("1.5 Hz. The red solid line represents the best linear fit for the peak delay measurement (black circles). A(f) and B(f) are the coefficients of the best linear fit.");
</script>
</body>
</html>
